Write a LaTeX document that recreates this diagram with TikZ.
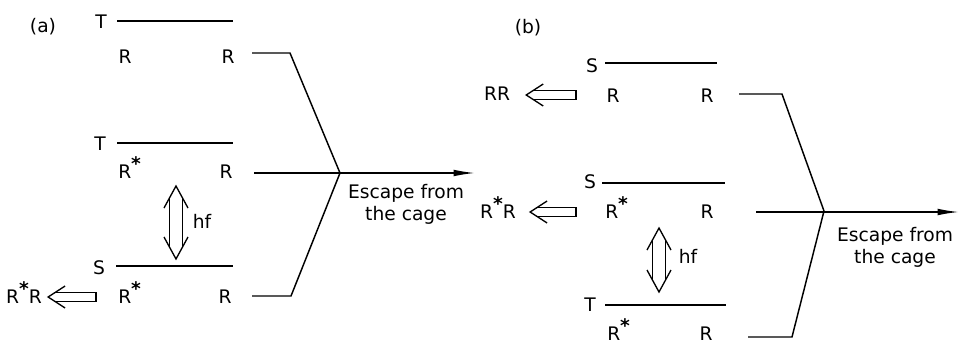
\documentclass[tikz,border=0pt]{standalone}
\usepackage{fontspec}
\setmainfont{DejaVu Sans}
\usetikzlibrary{arrows.meta,calc}

\tikzset{
  lbl/.style={anchor=base, inner sep=0pt},
  level/.style={line width=1pt},
  escline/.style={line width=1.1pt},
  escarrow/.style={line width=1.1pt, -{Latex[length=16pt,width=5pt]}},
}
\newcommand{\Rst}{R\raisebox{0.4em}{\textbf{*}}}
% open double arrow between two tips (top, bottom)
\newcommand{\photonarrow}[2]{%
  \draw[level] ($(#1)+(-12,22)$) -- (#1) -- ($(#1)+(12,22)$);
  \draw[level] ($(#2)+(-12,-22)$) -- (#2) -- ($(#2)+(12,-22)$);
  \draw[level] ($(#1)+(-6.5,11.9)$) -- ($(#2)+(-6.5,-11.9)$);
  \draw[level] ($(#1)+(6.5,11.9)$) -- ($(#2)+(6.5,-11.9)$);}
% hollow arrow from tail (#2) to tip (#1)
\newcommand{\leavearrow}[2]{%
  \draw[level] ($(#1)+(17,-11)$) -- (#1) -- ($(#1)+(17,11)$);
  \draw[level] ($(#1)+(7,-4.5)$) -- ($(#2)+(0,-4.5)$) -- ($(#2)+(0,4.5)$)
    -- ($(#1)+(7,4.5)$);}

\begin{document}
\begin{tikzpicture}[x=0.75pt, y=-0.75pt, font=\fontsize{14}{16.5}\selectfont]
  \useasboundingbox (0,0) rectangle (960,343);
  % ---- (a) ----
  \node[lbl] (aLab) at (43,32) {(a)};
  \node[lbl] (aT1) at (101,28) {T};
  \node[lbl] (aR1a) at (125,63) {R};
  \node[lbl] (aR1b) at (228,63) {R};
  \node[lbl] (aT2) at (100,150) {T};
  \node[lbl,anchor=base west] (aR2a) at (118,178) {\Rst};
  \node[lbl] (aR2b) at (226,178) {R};
  \node[lbl] (aS3) at (99,274) {S};
  \node[lbl,anchor=base west] (aR3a) at (118,303) {\Rst};
  \node[lbl] (aR3b) at (225,303) {R};
  \node[lbl] (aRR) at (24,303) {\Rst R};
  \node[lbl] (ahf) at (202,228) {hf};
  \node[align=center, inner sep=0pt] (aEsc) at (406,204) {Escape from\\the cage};
  % levels
  \draw[level] (117,21) -- (233,21);
  \draw[level] (117,143) -- (233,143);
  \draw[level] (116,266) -- (233,266);
  % hf
  \coordinate (aP1) at (176,186);
  \coordinate (aP2) at (176,259);
  \photonarrow{aP1}{aP2}
  % out of the cage
  \coordinate (aH) at (96,297);
  \coordinate (aTip) at ($(aRR.east |- aH)+(6,0)$);
  \leavearrow{aTip}{aH}
  % escape
  \coordinate (aX) at (340,173);
  \coordinate (aE1) at (252,53);
  \coordinate (aE2) at (254,173);
  \coordinate (aE3) at (252,296);
  \coordinate (aOut) at (475,173);
  \draw[escline] (aE1) -- (290,53) -- (aX);
  \draw[escline] (aE3) -- (291,296) -- (aX);
  \draw[escarrow] (aE2) -- (aOut);

  % ---- (b) ----
  \node[lbl] (bLab) at (528,33) {(b)};
  \node[lbl] (bS1) at (592,72) {S};
  \node[lbl] (bRR1) at (497,100) {RR};
  \node[lbl] (bR1a) at (613,102) {R};
  \node[lbl] (bR1b) at (707,102) {R};
  \node[lbl] (bS2) at (590,188) {S};
  \node[lbl] (bRR2) at (498,218) {\Rst R};
  \node[lbl,anchor=base west] (bR2a) at (605,218) {\Rst};
  \node[lbl] (bR2b) at (707,218) {R};
  \node[lbl] (bhf) at (688,263) {hf};
  \node[lbl] (bT3) at (590,311) {T};
  \node[lbl,anchor=base west] (bR3a) at (607,340) {\Rst};
  \node[lbl] (bR3b) at (706,340) {R};
  \node[align=center, inner sep=0pt] (bEsc) at (895,247) {Escape from\\the cage};
  % levels
  \draw[level] (605,63) -- (717,63);
  \draw[level] (602,183) -- (725,183);
  \draw[level] (605,305) -- (726,305);
  % hf
  \coordinate (bP1) at (659,228);
  \coordinate (bP2) at (659,292);
  \photonarrow{bP1}{bP2}
  % out of the cage
  \coordinate (bH1) at (576,95);
  \coordinate (bH2) at (576,212);
  \coordinate (bTip1) at ($(bRR1.east |- bH1)+(16,0)$);
  \coordinate (bTip2) at ($(bRR2.east |- bH2)+(14,0)$);
  \leavearrow{bTip1}{bH1}
  \leavearrow{bTip2}{bH2}
  % escape
  \coordinate (bX) at (824,211);
  \coordinate (bE1) at (739,94);
  \coordinate (bE2) at (756,212);
  \coordinate (bE3) at (748,337);
  \coordinate (bOut) at (959,212);
  \draw[escline] (bE1) -- (782,94) -- (bX);
  \draw[escline] (bE3) -- (792,337) -- (bX);
  \draw[escarrow] (bE2) -- (bOut);
\end{tikzpicture}
\end{document}
